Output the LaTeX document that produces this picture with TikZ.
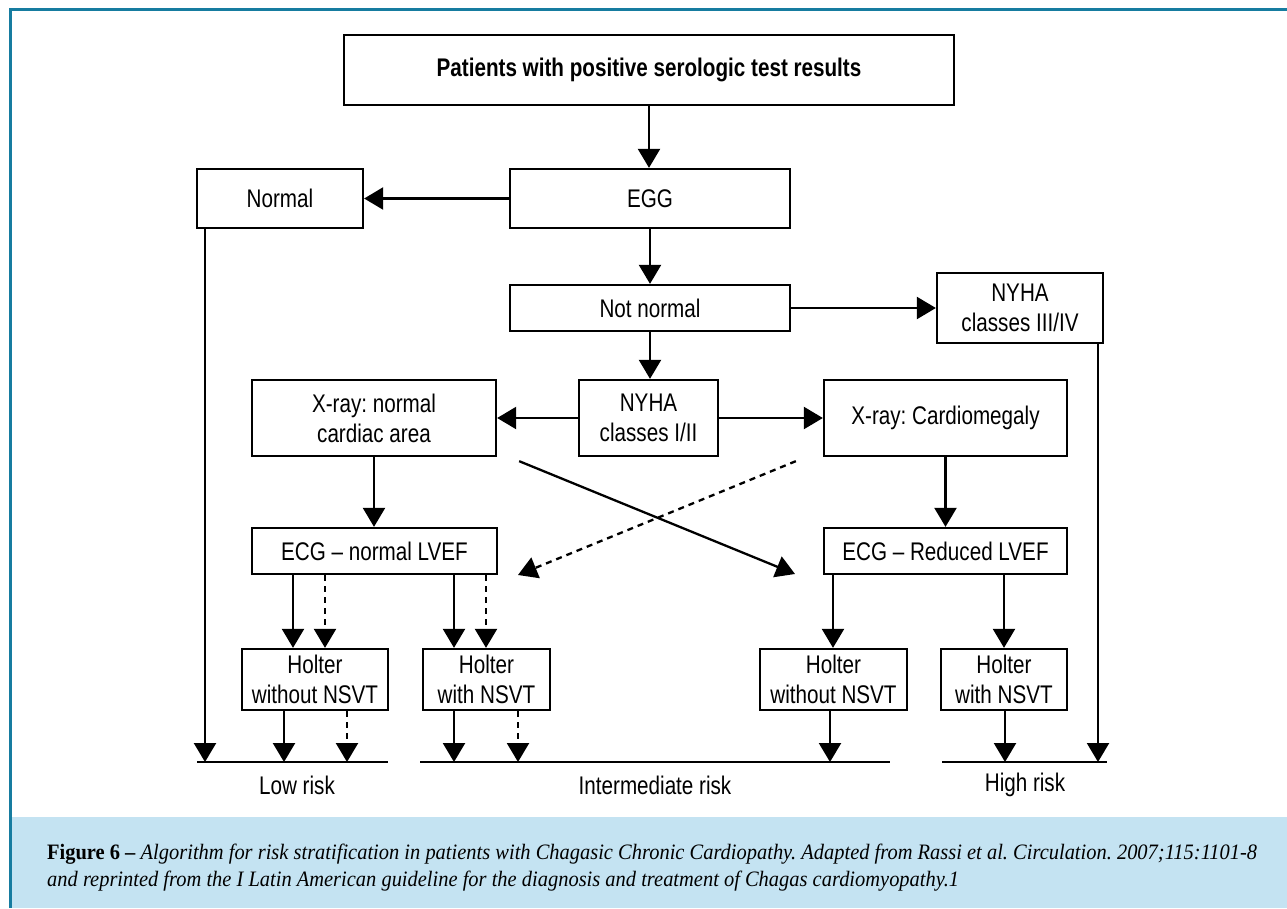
\documentclass[tikz,border=0pt]{standalone}
\usepackage{fontspec}
\setmainfont{Liberation Sans}
\newfontfamily\boxfont{Liberation Sans}[FakeStretch=0.81]
\newfontfamily\capfont{Liberation Serif}[FakeStretch=0.93]
\usetikzlibrary{arrows.meta}
\definecolor{frameblue}{RGB}{22,124,160}
\definecolor{capblue}{RGB}{196,227,242}
\begin{document}
\frenchspacing
\begin{tikzpicture}[x=1pt,y=-1pt,
 bx/.style={draw, line width=2.3pt, inner sep=0pt, align=center, font=\boxfont\fontsize{25.5}{30}\selectfont},
 arr/.style={line width=2.3pt, -{Triangle[length=19pt,width=22pt]}},
 darr/.style={arr, dash pattern=on 6pt off 5pt},
 rline/.style={line width=2.3pt},
 lbl/.style={font=\boxfont\fontsize{25.5}{30}\selectfont, inner sep=0pt},
 capst/.style={anchor=base west, inner sep=0pt, font=\capfont\fontsize{22}{26}\selectfont}]
\useasboundingbox (0,0) rectangle (1287,908);
\fill[white] (0,0) rectangle (1287,908);
\fill[capblue] (10,817) rectangle (1287,908);
\draw[frameblue, line width=3pt] (10.5,908) -- (10.5,9.5) -- (1287,9.5);

\node[bx, minimum width=610pt, minimum height=70pt, font=\boxfont\bfseries\fontsize{25.5}{30}\selectfont] (top) at (649,70) {Patients with positive serologic test results};
\node[bx, minimum width=280pt, minimum height=59pt] (egg) at (650,198.5) {EGG};
\node[bx, minimum width=166pt, minimum height=59pt] (normal) at (280,198.5) {Normal};
\node[bx, minimum width=280pt, minimum height=46pt] (nn) at (650,308) {Not normal};
\node[bx, minimum width=166pt, minimum height=70pt] (n34) at (1020,308) {NYHA\\classes III/IV};
\node[bx, minimum width=139pt, minimum height=76pt] (n12) at (648.5,418) {NYHA\\classes I/II};
\node[bx, minimum width=244pt, minimum height=76pt] (xn) at (374,418) {X-ray: normal\\cardiac area};
\node[bx, minimum width=243pt, minimum height=76pt] (xc) at (945.5,418) {X-ray: Cardiomegaly};
\node[bx, minimum width=245pt, minimum height=46pt] (en) at (374.5,551) {ECG – normal LVEF};
\node[bx, minimum width=243pt, minimum height=46pt] (er) at (945.5,551) {ECG – Reduced LVEF};
\node[bx, minimum width=146pt, minimum height=61pt] (h1) at (315,679.5) {Holter\\without NSVT};
\node[bx, minimum width=127pt, minimum height=61pt] (h2) at (486.5,679.5) {Holter\\with NSVT};
\node[bx, minimum width=147pt, minimum height=61pt] (h3) at (833.5,679.5) {Holter\\without NSVT};
\node[bx, minimum width=126pt, minimum height=61pt] (h4) at (1004,679.5) {Holter\\with NSVT};

\coordinate (lowL) at (197,762); \coordinate (lowR) at (388,762);
\coordinate (midL) at (420,762); \coordinate (midR) at (890,762);
\coordinate (hiL) at (942,762); \coordinate (hiR) at (1107,762);
\draw[rline] (lowL) -- (lowR);
\draw[rline] (midL) -- (midR);
\draw[rline] (hiL) -- (hiR);

\draw[arr] (top.south) -- (top.south |- egg.north);
\draw[arr] (egg.west) -- (normal.east);
\draw[arr] ([xshift=-75pt]normal.south) -- ([xshift=-75pt]normal.south |- lowL);
\draw[arr] (egg.south) -- (nn.north);
\draw[arr] (nn.east) -- (n34.west);
\draw[arr] ([xshift=78pt]n34.south) -- ([xshift=78pt]n34.south |- hiR);
\draw[arr] (nn.south) -- (nn.south |- n12.north);
\draw[arr] (n12.west) -- (xn.east);
\draw[arr] (n12.east) -- (xc.west);
\draw[arr] (xn.south) -- (xn.south |- en.north);
\draw[arr] (xc.south) -- (er.north);

\draw[arr] ([xshift=-81.5pt]en.south) -- ([xshift=-81.5pt]en.south |- h1.north);
\draw[darr] ([xshift=-49.5pt]en.south) -- ([xshift=-49.5pt]en.south |- h1.north);
\draw[arr] ([xshift=79.5pt]en.south) -- ([xshift=79.5pt]en.south |- h2.north);
\draw[darr] ([xshift=111.5pt]en.south) -- ([xshift=111.5pt]en.south |- h2.north);
\draw[arr] ([xshift=-112.5pt]er.south) -- ([xshift=-112.5pt]er.south |- h3.north);
\draw[arr] ([xshift=58.5pt]er.south) -- ([xshift=58.5pt]er.south |- h4.north);

\draw[arr] ([xshift=-31pt]h1.south) -- ([xshift=-31pt]h1.south |- lowL);
\draw[darr] ([xshift=32pt]h1.south) -- ([xshift=32pt]h1.south |- lowL);
\draw[arr] ([xshift=-32.5pt]h2.south) -- ([xshift=-32.5pt]h2.south |- midL);
\draw[darr] ([xshift=31.5pt]h2.south) -- ([xshift=31.5pt]h2.south |- midL);
\draw[arr] ([xshift=-3.5pt]h3.south) -- ([xshift=-3.5pt]h3.south |- midL);
\draw[arr] ([xshift=1pt]h4.south) -- ([xshift=1pt]h4.south |- hiL);

\coordinate (tipS) at (795,574);
\coordinate (tipD) at (518,575);
\draw[arr] ([shift={(22pt,-4pt)}]xn.south east) -- (tipS);
\draw[darr] ([shift={(-27pt,-4pt)}]xc.south west) -- (tipD);

\node[lbl] (lowt) at (297,785) {Low risk};
\node[lbl] (midt) at (655,785) {Intermediate risk};
\node[lbl] (hit) at (1025,785) {High risk};

\node[capst] (cap1) at (47,859) {\textbf{Figure 6 –} \textit{Algorithm for risk stratification in patients with Chagasic Chronic Cardiopathy. Adapted from Rassi et al. Circulation. 2007;115:1101-8}};
\node[capst] (cap2) at (47,886) {\textit{and reprinted from the I Latin American guideline for the diagnosis and treatment of Chagas cardiomyopathy.1}};
\end{tikzpicture}
\end{document}
